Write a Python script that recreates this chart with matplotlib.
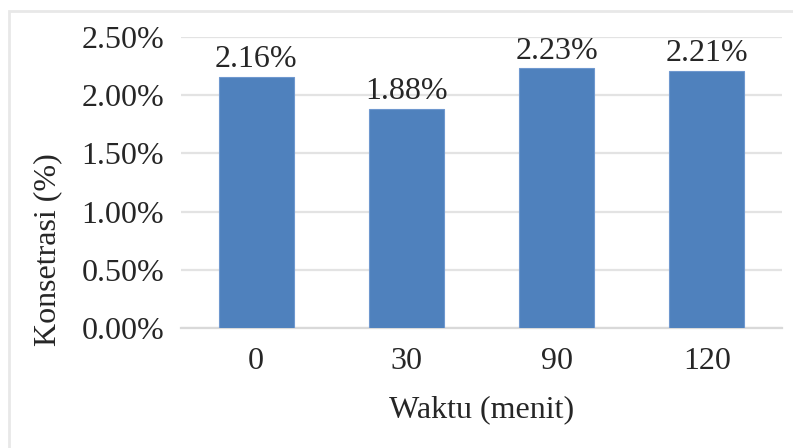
import matplotlib
matplotlib.use("Agg")
import matplotlib.pyplot as plt
from matplotlib.patches import Rectangle
from matplotlib.ticker import FuncFormatter

# Konsentrasi per waktu
categories = ["0", "30", "90", "120"]
values = [2.16, 1.88, 2.23, 2.21]  # persen
y_ticks = [0.0, 0.5, 1.0, 1.5, 2.0, 2.5]

plt.rcParams["font.family"] = ["Liberation Serif", "DejaVu Serif"]
TEXT = "#262626"
GRID = "#e3e3e3"
BAR = "#4f81bd"

W, H = 793, 448
fig = plt.figure(figsize=(W / 100, H / 100), dpi=100)

# chart frame
frame = Rectangle((9 / W, -0.1), 1.2, (H - 11) / H + 0.1,
                  transform=fig.transFigure, fill=False,
                  edgecolor="#e8e8e8", linewidth=2.0, zorder=0)
fig.patches.append(frame)

left, right = 181, 782
top, bottom = 37, 328
ax = fig.add_axes([left / W, (H - bottom) / H, (right - left) / W, (bottom - top) / H])

x = range(len(categories))
bars = ax.bar(x, values, width=0.5, color=BAR, edgecolor="#6f98cf", linewidth=0.8, zorder=3)

ax.set_xlim(-0.5, len(categories) - 0.5)
ax.set_ylim(y_ticks[0], y_ticks[-1])
ax.set_yticks(y_ticks)
ax.yaxis.set_major_formatter(FuncFormatter(lambda v, p: f"{v:.2f}%"))
ax.set_xticks(list(x))
ax.set_xticklabels(categories)

ax.grid(axis="y", color=GRID, linewidth=1.6, zorder=0)
ax.set_axisbelow(True)
for s in ["top", "right", "left"]:
    ax.spines[s].set_visible(False)
ax.spines["bottom"].set_color("#d9d9d9")
ax.spines["bottom"].set_linewidth(1.6)
ax.tick_params(axis="both", length=0, labelsize=23, labelcolor=TEXT)
ax.tick_params(axis="y", pad=12)
ax.tick_params(axis="x", pad=14)

for b, v in zip(bars, values):
    ax.annotate(f"{v:.2f}%", (b.get_x() + b.get_width() / 2, v),
                xytext=(0, 2), textcoords="offset points",
                ha="center", va="bottom", fontsize=23, color=TEXT)

fig.text(482 / W, 1 - 410 / H, "Waktu (menit)", ha="center", va="center",
         fontsize=23, color=TEXT)
fig.text(48 / W, 1 - 250 / H, "Konsetrasi (%)", ha="center", va="center",
         rotation=90, fontsize=23, color=TEXT)

fig.savefig("out.png", dpi=100, facecolor="white")
